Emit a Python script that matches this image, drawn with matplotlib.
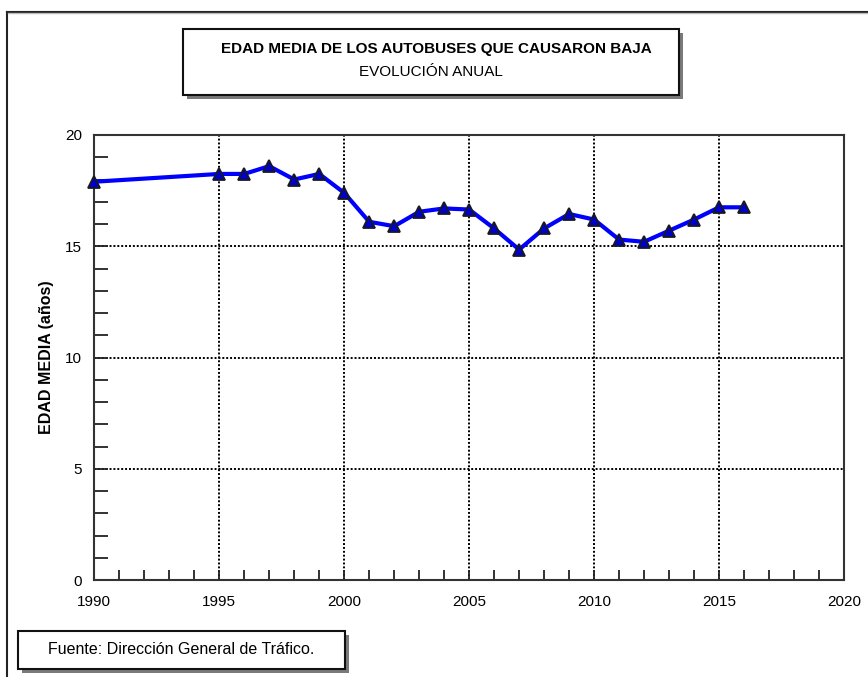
import numpy as np
import matplotlib
matplotlib.use("Agg")
import matplotlib.pyplot as plt
from matplotlib.patches import Rectangle
from matplotlib.lines import Line2D
from matplotlib.ticker import MultipleLocator

plt.rcParams['font.family'] = ['Liberation Sans', 'DejaVu Sans']

# datos
years = [1990, 1995, 1996, 1997, 1998, 1999, 2000, 2001, 2002, 2003, 2004, 2005,
         2006, 2007, 2008, 2009, 2010, 2011, 2012, 2013, 2014, 2015, 2016]
edad = [17.9, 18.25, 18.25, 18.6, 18.0, 18.25, 17.4, 16.1, 15.9, 16.55, 16.7, 16.65,
        15.8, 14.85, 15.8, 16.45, 16.2, 15.3, 15.2, 15.7, 16.2, 16.75, 16.75]

titulo = "EDAD MEDIA DE LOS AUTOBUSES QUE CAUSARON BAJA"
subtitulo = "EVOLUCIÓN ANUAL"
fuente = "Fuente: Dirección General de Tráfico."
ylabel = "EDAD MEDIA (años)"

W, H = 868, 677
def fx(px):
    return px / W
def fy(py):
    return 1 - py / H

fig = plt.figure(figsize=(W / 100, H / 100), dpi=100)
ax = fig.add_axes([fx(94.3), fy(580), fx(844) - fx(94.3), fy(135) - fy(580)])

ax.plot(years, edad, color='#0000ff', lw=3, marker='^', ms=9,
        mfc='#0000cc', mec='#1a1a1a', mew=1.3, zorder=5, clip_on=False)

ax.set_xlim(1990, 2020)
ax.set_ylim(0, 20)
ax.xaxis.set_major_locator(MultipleLocator(5))
ax.xaxis.set_minor_locator(MultipleLocator(1))
ax.yaxis.set_major_locator(MultipleLocator(5))
ax.yaxis.set_minor_locator(MultipleLocator(1))

ax.tick_params(axis='both', which='both', direction='in', colors='#222222',
               labelcolor='black', labelsize=11, width=1.3)
ax.tick_params(axis='x', which='both', length=7, pad=11)
ax.tick_params(axis='y', which='both', length=10, pad=9)
ax.tick_params(top=False, right=False, which='both')

ax.grid(True, which='major', color='black', lw=1.4, linestyle=(0, (1, 1)))

for s in ax.spines.values():
    s.set_color('#333333')
    s.set_linewidth(1.5)

ax.set_ylabel(ylabel, fontsize=11.5, fontweight='bold', labelpad=8)

# marco exterior
fig.add_artist(Line2D([fx(7), fx(7)], [0, fy(11.7)], color='#222222', lw=1.5))
fig.add_artist(Line2D([fx(7), 1], [fy(11.7), fy(11.7)], color='#222222', lw=1.5))
fig.add_artist(Line2D([fx(8), 1], [fy(13.3), fy(13.3)], color='#bbbbbb', lw=1))

# caja del titulo
bx0, by0, bx1, by1 = 183, 29, 679, 95
fig.add_artist(Rectangle((fx(bx0 + 4), fy(by1 + 4)), (bx1 - bx0) / W, (by1 - by0) / H,
                         transform=fig.transFigure, facecolor='#7a7a7a', edgecolor='none'))
fig.add_artist(Rectangle((fx(bx0), fy(by1)), (bx1 - bx0) / W, (by1 - by0) / H,
                         transform=fig.transFigure, facecolor='white',
                         edgecolor='#111111', lw=1.5))
fig.text(fx(436), fy(49), titulo, ha='center', va='center', fontsize=11,
         fontweight='bold')
fig.text(fx(431), fy(72), subtitulo, ha='center', va='center', fontsize=11)

# caja de la fuente
fx0, fy0, fx1, fy1 = 18, 631, 345, 669
fig.add_artist(Rectangle((fx(fx0 + 4), fy(fy1 + 4)), (fx1 - fx0) / W, (fy1 - fy0) / H,
                         transform=fig.transFigure, facecolor='#7a7a7a', edgecolor='none'))
fig.add_artist(Rectangle((fx(fx0), fy(fy1)), (fx1 - fx0) / W, (fy1 - fy0) / H,
                         transform=fig.transFigure, facecolor='white',
                         edgecolor='#111111', lw=1.5))
fig.text(fx(181.5), fy(650), fuente, ha='center', va='center', fontsize=11.5)

fig.savefig('out.png', dpi=100)
